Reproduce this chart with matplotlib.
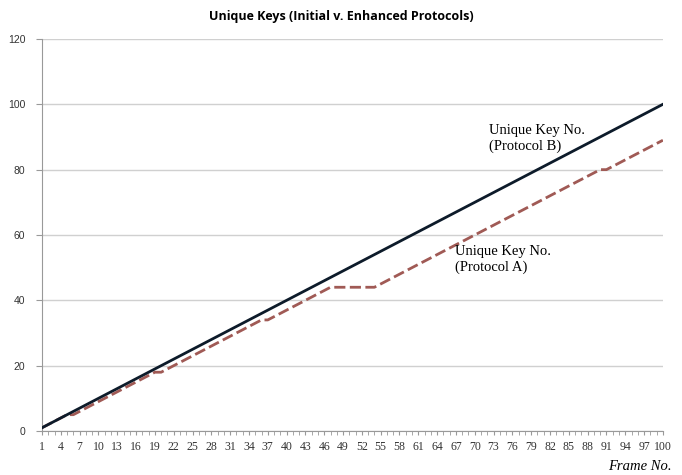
import matplotlib.pyplot as plt

frames = list(range(1, 101))

# unique keys, protocol B (enhanced)
keys_b = [
    1, 2, 3, 4, 5, 6, 7, 8, 9, 10, 11, 12, 13, 14, 15, 16, 17, 18, 19, 20,
    21, 22, 23, 24, 25, 26, 27, 28, 29, 30, 31, 32, 33, 34, 35, 36, 37, 38, 39, 40,
    41, 42, 43, 44, 45, 46, 47, 48, 49, 50, 51, 52, 53, 54, 55, 56, 57, 58, 59, 60,
    61, 62, 63, 64, 65, 66, 67, 68, 69, 70, 71, 72, 73, 74, 75, 76, 77, 78, 79, 80,
    81, 82, 83, 84, 85, 86, 87, 88, 89, 90, 91, 92, 93, 94, 95, 96, 97, 98, 99, 100,
]

# unique keys, protocol A (initial)
keys_a = [
    1, 2, 3, 4, 5, 5, 6, 7, 8, 9, 10, 11, 12, 13, 14, 15, 16, 17, 18, 18,
    19, 20, 21, 22, 23, 24, 25, 26, 27, 28, 29, 30, 31, 32, 33, 34, 34, 35, 36, 37,
    38, 39, 40, 41, 42, 43, 44, 44, 44, 44, 44, 44, 44, 44, 45, 46, 47, 48, 49, 50,
    51, 52, 53, 54, 55, 56, 57, 58, 59, 60, 61, 62, 63, 64, 65, 66, 67, 68, 69, 70,
    71, 72, 73, 74, 75, 76, 77, 78, 79, 80, 80, 81, 82, 83, 84, 85, 86, 87, 88, 89,
]

xtick_labels = [str(f) for f in frames[::3]]

fig = plt.figure(figsize=(6.82, 4.75), dpi=100)
ax = fig.add_axes([0.0616, 0.0926, 0.9104, 0.8254])

ax.plot(frames, keys_b, color='#0d1b2a', lw=2.0, zorder=3)
ax.plot(frames, keys_a, color='#a05a55', lw=2.0, dashes=(4, 1.6), zorder=2)

ax.set_xlim(1, 100)
ax.set_ylim(0, 120)
ax.set_yticks(range(0, 121, 20))
ax.set_xticks(frames[::3])
ax.set_xticklabels(xtick_labels, fontsize=8.5, family='Liberation Serif', color='#333333')
ax.set_xticks(frames, minor=True)
ax.tick_params(axis='x', which='both', direction='out', length=3, color='#999999', pad=4)
ax.tick_params(axis='y', direction='out', length=4, color='#999999', pad=8)
for lbl in ax.get_yticklabels():
    lbl.set_fontsize(7.5)
    lbl.set_family('Liberation Sans')
    lbl.set_color('#333333')

ax.grid(axis='y', color='#d0d0d0', lw=1.0)
ax.set_axisbelow(True)
for s in ['top', 'right']:
    ax.spines[s].set_visible(False)
for s in ['left', 'bottom']:
    ax.spines[s].set_color('#999999')

fig.text(0.5, 0.965, 'Unique Keys (Initial v. Enhanced Protocols)', ha='center', va='center',
         fontsize=9, fontweight='bold', family='Open Sans')
fig.text(0.985, 0.005, 'Frame No.', ha='right', va='bottom', fontsize=10.5,
         family='Liberation Serif', style='italic')

ax.text(72.3, 89.5, 'Unique Key No.\n(Protocol B)', fontsize=10.5, family='Liberation Serif',
        ha='left', va='center', linespacing=1.2)
ax.text(66.8, 52.5, 'Unique Key No.\n(Protocol A)', fontsize=10.5, family='Liberation Serif',
        ha='left', va='center', linespacing=1.2)

fig.savefig('out.png', dpi=100)
